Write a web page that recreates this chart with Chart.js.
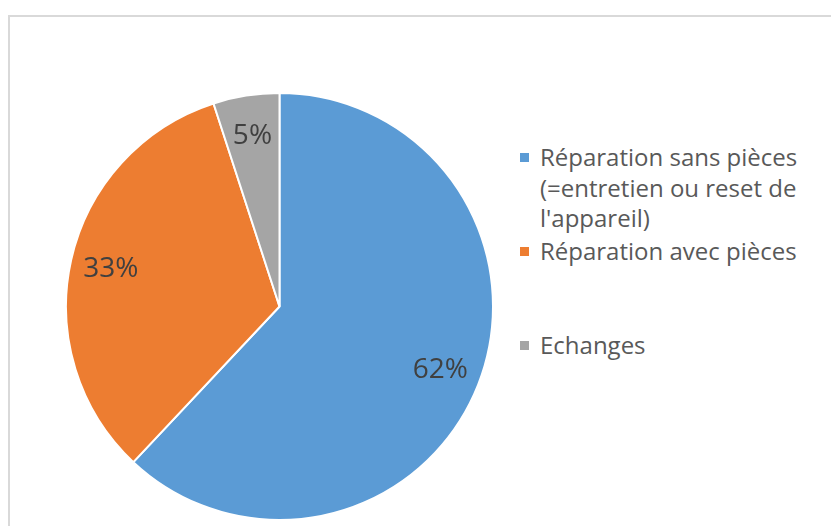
<!DOCTYPE html>
<html>
<head>
<meta charset="utf-8">
<script src="https://cdn.jsdelivr.net/npm/chart.js@4/dist/chart.umd.min.js"></script>
<style>
	body { margin: 0; background: #fff; width: 831px; height: 526px; overflow: hidden; position: relative; font-family: 'Open Sans', sans-serif; }
	#frame { position: absolute; left: 8px; top: 15px; width: 900px; height: 600px; border-left: 2px solid #d9d9d9; border-top: 2px solid #d9d9d9; }
	#pie-box { position: absolute; left: 65px; top: 92px; width: 429px; height: 429px; }
	#legend { position: absolute; left: 520px; top: 142px; width: 310px; color: #595959; font-size: 24px; line-height: 30.5px; }
	.item { position: relative; height: 94px; padding-left: 20px; }
	.item .box { position: absolute; left: 0; top: 11px; width: 9px; height: 9px; }
	.item .txt { width: 285px; }
</style>
</head>
<body>
<div id="frame"></div>
<div id="pie-box"><canvas id="pie"></canvas></div>
<div id="legend"></div>
<script>
const categories = ['Réparation sans pièces (=entretien ou reset de l\'appareil)', 'Réparation avec pièces', 'Echanges'];
const percentages = [62, 33, 5];
const sliceColors = ['#5b9bd5', '#ed7d31', '#a5a5a5'];

// percent labels inside the slices
const sliceLabels = {
	id: 'sliceLabels',
	afterDatasetsDraw(chart) {
		const ctx = chart.ctx;
		const meta = chart.getDatasetMeta(0);
		ctx.save();
		ctx.font = '28px "Open Sans", sans-serif';
		ctx.fillStyle = '#404040';
		ctx.textAlign = 'center';
		ctx.textBaseline = 'middle';
		meta.data.forEach((arc, i) => {
			const p = arc.getProps(['x', 'y', 'startAngle', 'endAngle', 'outerRadius'], true);
			const mid = (p.startAngle + p.endAngle) / 2;
			const r = p.outerRadius * 0.81;
			ctx.fillText(percentages[i] + '%', p.x + Math.cos(mid) * r, p.y + Math.sin(mid) * r);
		});
		ctx.restore();
	}
};

new Chart(document.getElementById('pie'), {
	type: 'pie',
	data: {
		labels: categories,
		datasets: [{
			data: percentages,
			backgroundColor: sliceColors,
			borderColor: '#ffffff',
			borderWidth: 2
		}]
	},
	options: {
		responsive: true,
		maintainAspectRatio: false,
		animation: false,
		layout: { padding: 0 },
		plugins: {
			legend: { display: false },
			tooltip: { enabled: false }
		}
	},
	plugins: [sliceLabels]
});

const legend = document.getElementById('legend');
categories.forEach((cat, i) => {
	const item = document.createElement('div');
	item.className = 'item';
	item.innerHTML = `<span class="box" style="background:${sliceColors[i]}"></span><div class="txt"></div>`;
	item.querySelector('.txt').textContent = cat;
	legend.appendChild(item);
});
</script>
</body>
</html>
